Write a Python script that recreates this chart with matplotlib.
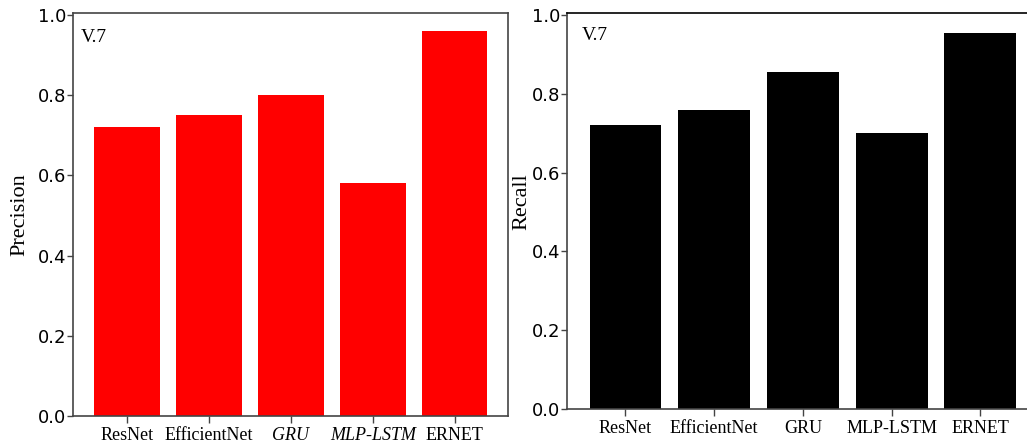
import matplotlib
matplotlib.use("Agg")
import matplotlib.pyplot as plt
import numpy as np

# data
models = ['ResNet', 'EfficientNet', 'GRU', 'MLP-LSTM', 'ERNET']
precision = [0.72, 0.75, 0.80, 0.58, 0.96]
recall = [0.72, 0.76, 0.855, 0.70, 0.955]
yticks = [0.0, 0.2, 0.4, 0.6, 0.8, 1.0]

serif = 'Liberation Serif'
sans = 'DejaVu Sans'

fig = plt.figure(figsize=(10.27, 4.43), dpi=100)
ax1 = fig.add_axes([0.0711, 0.061, 0.4235, 0.9097])
ax2 = fig.add_axes([0.552, 0.0767, 0.451, 0.894])

x = np.arange(len(models))

def style(ax, ylabel):
    ax.set_ylim(0, 1.005)
    ax.set_yticks(yticks)
    ax.set_yticklabels([f'{v:.1f}' for v in yticks], fontfamily=sans, fontsize=13)
    ax.set_xticks(x)
    ax.set_ylabel(ylabel, fontfamily=serif, fontsize=16)
    for s in ax.spines.values():
        s.set_color('#444444')
        s.set_linewidth(1.2)
    ax.tick_params(axis='y', direction='out', length=4, width=1.0, color='#444444', pad=1)
    ax.tick_params(axis='x', direction='out', length=5, width=1.0, color='#444444', pad=3)

# left: precision
ax1.bar(x, precision, width=0.8, color='#ff0000')
ax1.set_xlim(-0.66, 4.65)
style(ax1, 'Precision')
ax1.yaxis.set_label_coords(-0.101, 0.499)
ax1.set_xticklabels(models, fontfamily=serif, fontsize=13)
for lbl in ax1.get_xticklabels():
    if lbl.get_text() in ('GRU', 'MLP-LSTM'):
        lbl.set_fontstyle('italic')
ax1.text(0.018, 0.96, 'V.7', transform=ax1.transAxes, fontfamily=serif,
         fontsize=14, va='top', ha='left')

# right: recall
ax2.bar(x, recall, width=0.81, color='#000000')
ax2.set_xlim(-0.66, 4.56)
style(ax2, 'Recall')
ax2.yaxis.set_label_coords(-0.0775, 0.523)
ax2.set_xticklabels(models, fontfamily=serif, fontsize=13)
ax2.spines['top'].set_color('black')
ax2.text(0.032, 0.965, 'V.7', transform=ax2.transAxes, fontfamily=serif,
         fontsize=14, va='top', ha='left')

fig.savefig('out.png', dpi=100)
